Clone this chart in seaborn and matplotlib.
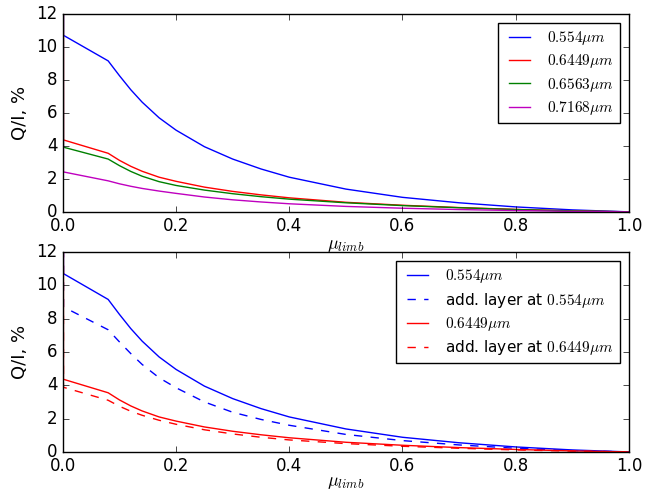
import matplotlib
matplotlib.use("Agg")
import matplotlib.pyplot as plt
import pandas as pd
import seaborn as sns

# limb distance grid; first point sits on the limb where Q/I blows up
mu = [0.0, 0.001, 0.08, 0.10, 0.12, 0.14, 0.17, 0.20, 0.25, 0.30, 0.35, 0.40,
      0.50, 0.60, 0.70, 0.80, 0.90, 1.0]

q_554 = [100, 10.7, 9.15, 8.25, 7.4, 6.65, 5.7, 4.95, 3.95, 3.2, 2.6, 2.1,
         1.38, 0.88, 0.55, 0.30, 0.12, 0.0]
q_6449 = [100, 4.36, 3.55, 3.12, 2.76, 2.46, 2.1, 1.85, 1.5, 1.24, 1.03, 0.85,
          0.58, 0.40, 0.26, 0.15, 0.06, 0.0]
q_6563 = [100, 3.92, 3.2, 2.8, 2.45, 2.16, 1.83, 1.6, 1.32, 1.1, 0.92, 0.77,
          0.55, 0.38, 0.25, 0.14, 0.06, 0.0]
q_7168 = [100, 2.42, 1.88, 1.7, 1.55, 1.42, 1.26, 1.12, 0.9, 0.73, 0.6, 0.49,
          0.33, 0.22, 0.14, 0.08, 0.03, 0.0]
q_554_layer = [100, 8.7, 7.33, 6.6, 5.9, 5.25, 4.45, 3.85, 3.0, 2.38, 1.95, 1.6,
               1.05, 0.68, 0.42, 0.22, 0.08, 0.0]
q_6449_layer = [100, 3.88, 3.1, 2.74, 2.44, 2.2, 1.9, 1.66, 1.33, 1.08, 0.88, 0.72,
                0.50, 0.34, 0.22, 0.12, 0.05, 0.0]

top_series = [
    (r"$0.554\mu m$", q_554, "blue"),
    (r"$0.6449\mu m$", q_6449, "red"),
    (r"$0.6563\mu m$", q_6563, "green"),
    (r"$0.7168\mu m$", q_7168, "m"),
]
bottom_series = [
    (r"$0.554\mu m$", q_554, "blue", "-"),
    (r"add. layer at $0.554\mu m$", q_554_layer, "blue", "--"),
    (r"$0.6449\mu m$", q_6449, "red", "-"),
    (r"add. layer at $0.6449\mu m$", q_6449_layer, "red", "--"),
]

plt.style.use("classic")
plt.rcParams["figure.facecolor"] = "white"
plt.rcParams["mathtext.fontset"] = "cm"
plt.rcParams["font.family"] = ["DejaVu Sans"]

fig = plt.figure(figsize=(6.62, 4.95), dpi=100)
ax1 = fig.add_axes([0.095, 0.572, 0.855, 0.400])
ax2 = fig.add_axes([0.095, 0.087, 0.855, 0.404])

for label, vals, color in top_series:
    df = pd.DataFrame({"mu": mu, "q": vals})
    sns.lineplot(data=df, x="mu", y="q", ax=ax1, color=color, label=label,
                 linewidth=1.0, sort=False)

for label, vals, color, ls in bottom_series:
    df = pd.DataFrame({"mu": mu, "q": vals})
    sns.lineplot(data=df, x="mu", y="q", ax=ax2, color=color, label=label,
                 linewidth=1.0, linestyle=ls, sort=False)

for ax, pad in ((ax1, 0.5), (ax2, -2)):
    ax.set_xlim(0, 1.0)
    ax.set_ylim(0, 12)
    ax.set_xlabel(r"$\mu_{limb}$", fontsize=13, labelpad=pad)
    ax.set_ylabel("Q/I, %", fontsize=13)
    ax.legend(loc="upper right", fancybox=False, fontsize=11,
              labelspacing=0.35, handlelength=2.0, borderaxespad=0.6)

# bottom panel is drawn over the lower part of the top x label, as in the original
ax2.set_zorder(2)
ax2.patch.set_facecolor("white")

fig.savefig("out.png", dpi=100)
